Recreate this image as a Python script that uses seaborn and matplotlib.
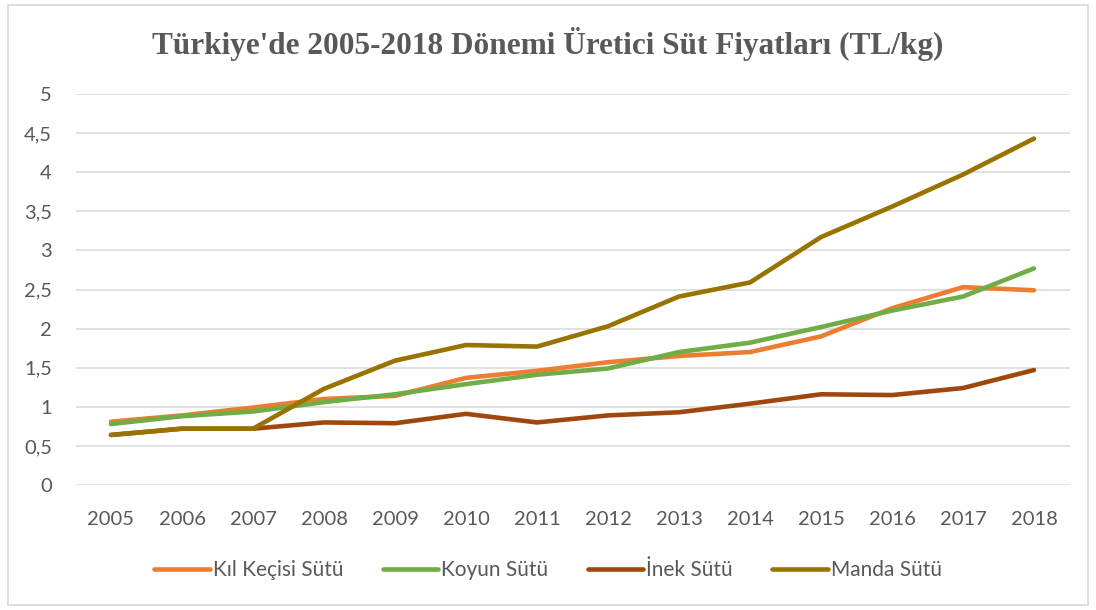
import pandas as pd
import matplotlib
matplotlib.use("Agg")
import matplotlib.pyplot as plt
import seaborn as sns

# =========================================================
# DADOS (TL/kg)
# =========================================================
yillar = list(range(2005, 2019))
kil_kecisi = [0.81, 0.89, 0.99, 1.10, 1.14, 1.37, 1.46, 1.57, 1.65, 1.70, 1.90, 2.26, 2.53, 2.49]
koyun = [0.78, 0.88, 0.94, 1.06, 1.16, 1.29, 1.41, 1.49, 1.70, 1.82, 2.02, 2.23, 2.41, 2.77]
inek = [0.64, 0.72, 0.72, 0.80, 0.79, 0.91, 0.80, 0.89, 0.93, 1.04, 1.16, 1.15, 1.24, 1.47]
manda = [0.64, 0.72, 0.72, 1.23, 1.59, 1.79, 1.77, 2.03, 2.41, 2.59, 3.17, 3.56, 3.97, 4.43]

seriler = ["Kıl Keçisi Sütü", "Koyun Sütü", "İnek Sütü", "Manda Sütü"]
renkler = ["#ED7D31", "#70AD47", "#9E480E", "#997300"]
baslik = "Türkiye'de 2005-2018 Dönemi Üretici Süt Fiyatları (TL/kg)"

df = pd.DataFrame({"yil": yillar, seriler[0]: kil_kecisi, seriler[1]: koyun,
                   seriler[2]: inek, seriler[3]: manda})
df_long = df.melt(id_vars="yil", var_name="seri", value_name="fiyat")

sns.set_style("white")
plt.rcParams['font.family'] = ['Lato', 'DejaVu Sans']

fig = plt.figure(figsize=(10.96, 6.10), dpi=100)
ax = fig.add_axes([75.5 / 1096, 1 - 485 / 610, (1069.5 - 75.5) / 1096, (485 - 94) / 610])

sns.lineplot(data=df_long, x="yil", y="fiyat", hue="seri", hue_order=seriler,
             palette=renkler, linewidth=3.3, ax=ax, legend=False,
             solid_capstyle="round")

ax.set_xlim(2004.5, 2018.5)
ax.set_ylim(0, 5)
ax.set_xticks(yillar)
ax.set_yticks([0, 0.5, 1, 1.5, 2, 2.5, 3, 3.5, 4, 4.5, 5])
ax.set_yticklabels(["0", "0,5", "1", "1,5", "2", "2,5", "3", "3,5", "4", "4,5", "5"])
ax.tick_params(axis="both", length=0, labelsize=14.5, colors="#595959")
ax.tick_params(axis="x", pad=19)
ax.tick_params(axis="y", pad=17)
ax.grid(axis="y", color="#d9d9d9", linewidth=1.1)
ax.set_axisbelow(True)
for s in ax.spines.values():
    s.set_visible(False)
ax.set_xlabel("")
ax.set_ylabel("")

fig.text(0.5, 1 - 44 / 610, baslik, ha="center", va="center",
         fontsize=22.5, fontweight="bold", color="#595959",
         family=["Liberation Serif", "DejaVu Serif"])

handles = [plt.Line2D([0], [0], color=c, lw=3.3, solid_capstyle="round") for c in renkler]
fig.legend(handles, seriler, loc="center", bbox_to_anchor=(0.5, 1 - 570 / 610),
           ncol=4, frameon=False, fontsize=15, labelcolor="#595959",
           handlelength=2.65, handletextpad=0.15, columnspacing=1.9)

# çerçeve
fig.add_artist(plt.Rectangle((8 / 1096, 5 / 610), 1080 / 1096, 600 / 610,
                             transform=fig.transFigure, fill=False,
                             edgecolor="#d9d9d9", linewidth=1.2))

fig.savefig("out.png", dpi=100)
